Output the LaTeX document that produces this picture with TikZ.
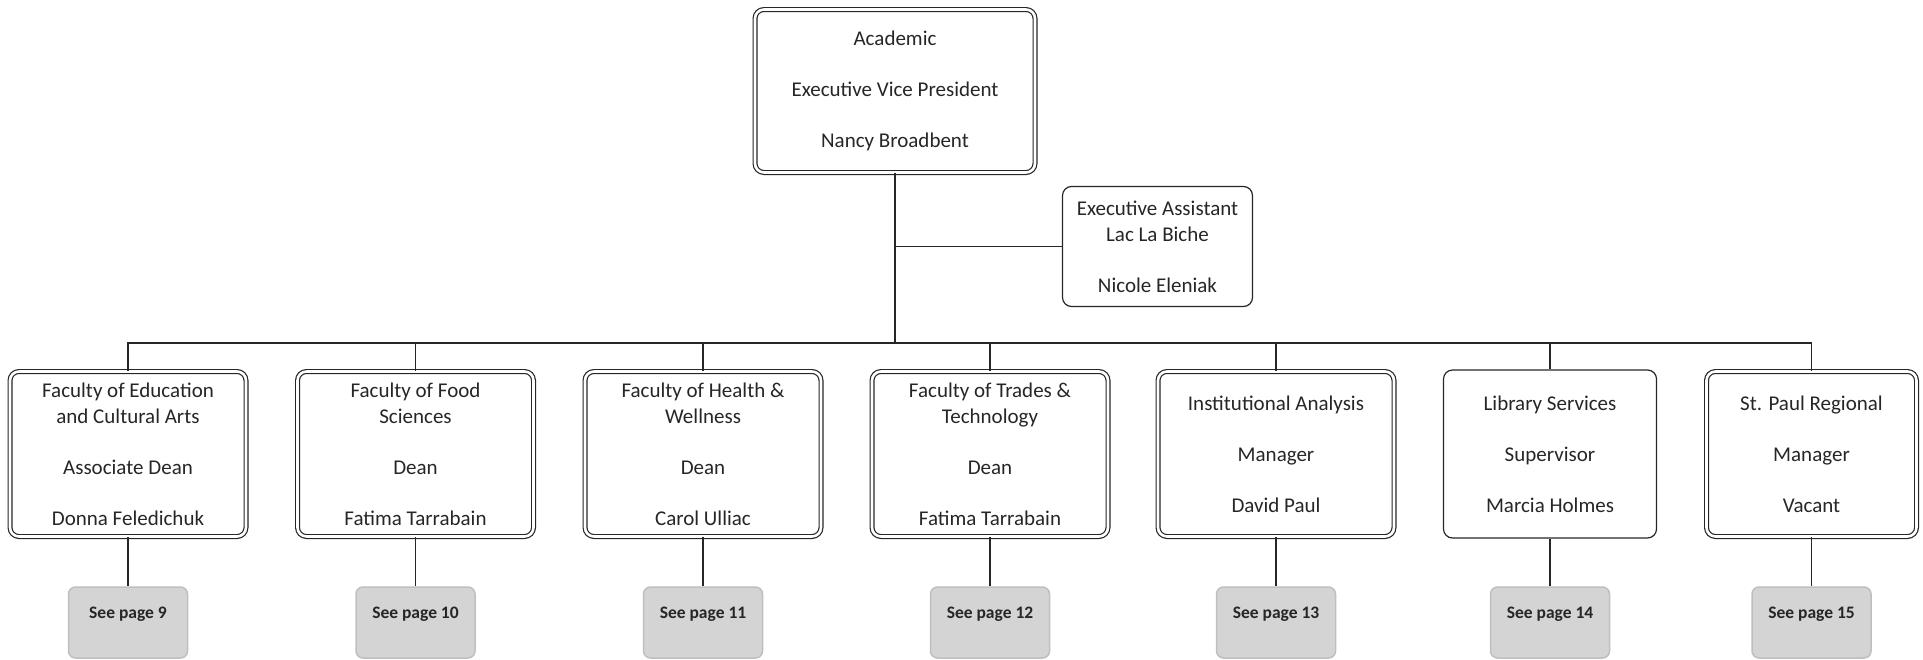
\documentclass[tikz,border=0pt]{standalone}
\usepackage{fontspec}
\setmainfont{Carlito}
\usepackage{tikz}
\usetikzlibrary{positioning,calc}
\tikzset{
  box/.style={draw=black!85, line width=1.2pt, rounded corners=9pt, align=center, inner sep=0pt,
    font=\fontsize{21}{26}\selectfont, text=black!85},
  dbox/.style={box, double=white, double distance=2.6pt},
  unit/.style={dbox, minimum width=236pt, minimum height=165pt},
  pagebox/.style={draw=black!25, fill=black!17, rounded corners=7pt, minimum width=119pt,
    minimum height=71pt, inner sep=0pt, text height=13pt, text depth=21pt,
    font=\fontsize{17.5}{20}\selectfont\bfseries, text=black!85},
}

\begin{document}
\begin{tikzpicture}
[x=1pt,y=-1pt,line width=1.5pt,draw=black!85]
\useasboundingbox (0,0) rectangle (1923,659);
\node[dbox, minimum width=280pt, minimum height=163pt] (evp) at (895,91) {Academic\\[25pt]Executive Vice President\\[25pt]Nancy Broadbent};
\node[box, minimum width=190pt, minimum height=120pt] (asst) at (1157.5,246.5) {Executive Assistant\\Lac La Biche\\[25pt]Nicole Eleniak};
\node[unit] (edu) at (128,454) {Faculty of Education\\and Cultural Arts\\[25pt]Associate Dean\\[25pt]Donna Feledichuk};
\node[unit] (food) at (415.5,454) {Faculty of Food\\Sciences\\[25pt]Dean\\[25pt]Fatima Tarrabain};
\node[unit] (health) at (703,454) {Faculty of Health \&\\Wellness\\[25pt]Dean\\[25pt]Carol Ulliac};
\node[unit] (trades) at (990,454) {Faculty of Trades \&\\Technology\\[25pt]Dean\\[25pt]Fatima Tarrabain};
\node[unit] (ia) at (1276,454) {Institutional Analysis\\[25pt]Manager\\[25pt]David Paul};
\node[box, minimum width=213pt, minimum height=168pt] (lib) at (1550,454) {Library Services\\[25pt]Supervisor\\[25pt]Marcia Holmes};
\node[dbox, minimum width=210pt, minimum height=165pt] (stp) at (1811.5,454) {St. Paul Regional\\[25pt]Manager\\[25pt]Vacant};
\node[pagebox] (p9) at (128,622.5) {See page 9};
\node[pagebox] (p10) at (415.5,622.5) {See page 10};
\node[pagebox] (p11) at (703,622.5) {See page 11};
\node[pagebox] (p12) at (990,622.5) {See page 12};
\node[pagebox] (p13) at (1276,622.5) {See page 13};
\node[pagebox] (p14) at (1550,622.5) {See page 14};
\node[pagebox] (p15) at (1811.5,622.5) {See page 15};
\coordinate (busy) at (0,343);
\coordinate (bus) at (evp.south |- busy);
\draw (evp) -- (bus);
\draw (asst.west) -- (asst.west -| evp.south);
\draw (edu.north) -- (edu.north |- bus) -- (stp.north |- bus) -- (stp.north);
\draw (food.north) -- (food.north |- bus);
\draw (health.north) -- (health.north |- bus);
\draw (trades.north) -- (trades.north |- bus);
\draw (ia.north) -- (ia.north |- bus);
\draw (lib.north) -- (lib.north |- bus);
\draw (edu) -- (p9);
\draw (food) -- (p10);
\draw (health) -- (p11);
\draw (trades) -- (p12);
\draw (ia) -- (p13);
\draw (lib) -- (p14);
\draw (stp) -- (p15);
\end{tikzpicture}
\end{document}
